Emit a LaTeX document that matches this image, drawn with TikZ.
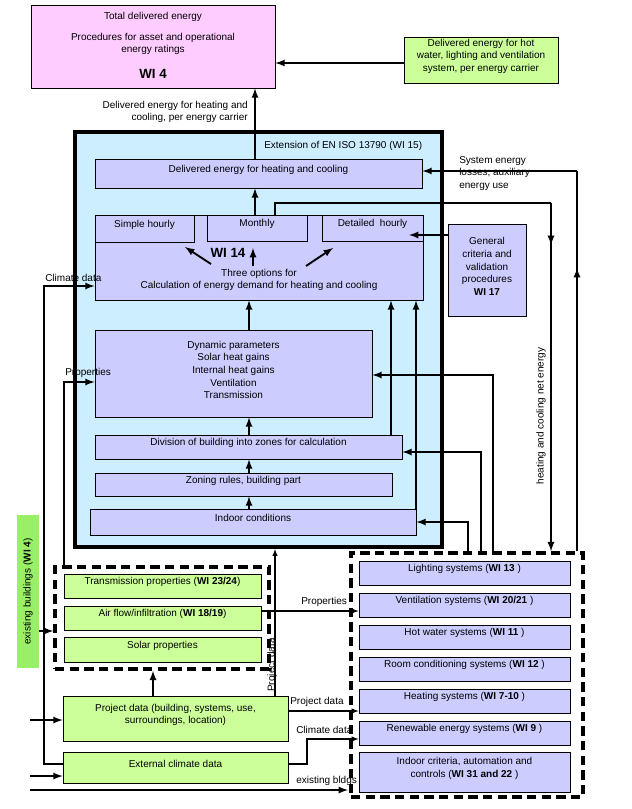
\documentclass[tikz,border=0pt]{standalone}
\usepackage{fontspec}
\setmainfont{Liberation Sans}
\usetikzlibrary{arrows,fit,positioning}
\definecolor{pinkbox}{HTML}{FFCCFF}
\definecolor{greenbox}{HTML}{CCFF99}
\definecolor{barbox}{HTML}{99F066}
\definecolor{bluebox}{HTML}{CCEEFF}
\definecolor{purplebox}{HTML}{CCCCFF}
\tikzset{
  box/.style={draw, line width=0.6pt, inner sep=0pt, align=center},
  sys/.style={box, fill=purplebox},
  data/.style={box, fill=greenbox},
  arr/.style={-latex, line width=1.4pt},
  thin arr/.style={-latex, line width=0.8pt},
  dashbox/.style={draw, line width=2.6pt, dash pattern=on 7pt off 4pt, inner sep=0pt},
  lbl/.style={inner sep=0pt, align=center}
}
\begin{document}
\begin{tikzpicture}[x=0.75pt,y=-0.75pt,font=\fontsize{7.5}{9.5}\selectfont]
\useasboundingbox (0,0) rectangle (631,809);

% top
\node[box, fill=pinkbox, fit={(31,5)(275,88)}] (total) {};
\node[lbl] at (153,17) {Total delivered energy};
\node[lbl] at (153,44) {Procedures for asset and operational\\energy ratings};
\node[lbl, font=\fontsize{10}{12}\selectfont\bfseries] at (153,74) {WI 4};
\node[data, fit={(404,37)(558,83)}] (hotw) {Delivered energy for hot\\water, lighting and ventilation\\system, per energy carrier};

% extension box
\node[draw, line width=3pt, fill=bluebox, fit={(75,132)(442,547)}, inner sep=0pt] (ext) {};
\node[lbl, anchor=west] at (264,146) {Extension of EN ISO 13790 (WI 15)};
\node[sys, fit={(95,159)(422,188)}] (deliv) {Delivered energy for heating and cooling};
\node[sys, fit={(95,215)(423,300)}] (wi14) {};
\node[sys, fit={(95,215)(194,242)}] (simple) {Simple hourly};
\node[sys, fit={(207,215)(307,241)}] (monthly) {Monthly};
\node[sys, fit={(322,215)(423,241)}] (detailed) {Detailed\ \ hourly};
\node[lbl, font=\fontsize{10}{12}\selectfont\bfseries] (wi14lbl) at (228,253) {WI 14};
\node[lbl] (three) at (259,280) {Three options for\\Calculation of energy demand for heating and cooling};
\node[sys, fit={(95,330)(372,417)}] (dyn) {Dynamic parameters\\Solar heat gains\\Internal heat gains\\Ventilation\\Transmission};
\node[sys, fit={(95,435)(402,459)}] (division) {Division of building into zones for calculation};
\node[sys, fit={(95,473)(392,496)}] (zoning) {Zoning rules, building part};
\node[sys, fit={(90,509)(416,535)}] (indoor) {Indoor conditions};
\node[box, fill=purplebox, fit={(448,224)(526,316)}] (general) {General\\criteria and\\validation\\procedures\\\textbf{WI 17}};

% left side
\node[dashbox, fit={(55,567)(269,669)}] (props) {};
\node[data, fit={(64,574)(261,598)}] (trans) {Transmission properties (\textbf{WI 23/24})};
\node[data, fit={(64,606)(261,630)}] (airflow) {Air flow/infiltration (\textbf{WI 18/19})};
\node[data, fit={(64,637)(261,662)}] (solar) {Solar properties};
\node[fill=barbox, fit={(17,515)(39,668)}, inner sep=0pt] (existing) {};
\node[lbl, rotate=90] at (existing.center) {existing buildings (\textbf{WI 4})};
\node[data, fit={(63,696)(288,741)}] (project) {Project data (building, systems, use,\\surroundings, location)};
\node[data, fit={(63,752)(288,783)}] (climate) {External climate data};

% right side
\node[dashbox, fit={(351,553)(583,797)}] (systems) {};
\node[sys, fit={(359,561)(570,585)}] (light) {Lighting systems (\textbf{WI 13} )};
\node[sys, fit={(359,593)(570,617)}] (vent) {Ventilation systems (\textbf{WI 20/21} )};
\node[sys, fit={(359,625)(570,649)}] (hotwater) {Hot water systems (\textbf{WI 11} )};
\node[sys, fit={(359,657)(570,681)}] (room) {Room conditioning systems (\textbf{WI 12} )};
\node[sys, fit={(359,689)(570,713)}] (heating) {Heating systems (\textbf{WI 7-10} )};
\node[sys, fit={(359,721)(570,745)}] (renew) {Renewable energy systems (\textbf{WI 9} )};
\node[sys, fit={(359,752)(570,792)}] (criteria) {Indoor criteria, automation and\\controls (\textbf{WI 31 and 22} )};

% labels
\node[lbl, align=right, anchor=east] at (248,112) {Delivered energy for heating and\\cooling, per energy carrier};
\node[lbl, align=left, anchor=north west] at (459,156) {System energy\\losses; auxiliary\\energy use};
\node[lbl, rotate=90] at (541,416) {heating and cooling net energy};
\node[lbl, anchor=south west] at (45,282) {Climate data};
\node[lbl, anchor=south west] at (65,378) {Properties};
\node[lbl, rotate=90, anchor=south] at (277,665) {Project data};
\node[lbl, anchor=south west] at (301,607) {Properties};
\node[lbl, anchor=south west] at (290,707) {Project data};
\node[lbl, anchor=south west] at (296,734) {Climate data};
\node[lbl, anchor=south west] at (296,786) {existing bldgs};

% connectors
\draw[arr] (hotw.west |- 0,63) -- (total.east |- 0,63);
\draw[arr] (deliv.north -| 255,0) -- (total.south -| 255,0);
\draw[arr] (monthly.north -| 255,0) -- (deliv.south -| 255,0);
\draw[arr] (211,264) -- (185,247);
\draw[arr] (253,266) -- (253,248);
\draw[arr] (306,266) -- (333,248);
\draw[arr] (general.west |- 0,235) -- (409,235);
\draw[arr] (dyn.north -| 249,0) -- (wi14.south -| 249,0);
\draw[arr] (division.north -| 249,0) -- (dyn.south -| 249,0);
\draw[arr] (zoning.north -| 249,0) -- (division.south -| 249,0);
\draw[arr] (indoor.north -| 249,0) -- (zoning.south -| 249,0);
\draw[arr] (division.north -| 391,0) -- (wi14.south -| 391,0);
\draw[arr] (indoor.north -| 416,0) -- (wi14.south -| 416,0);
\coordinate (netA) at (551,203);
\coordinate (netB) at (577,171);
\draw[line width=0.8pt] (monthly.north -| 275,0) |- (netA);
\draw[arr] (netA) -- (netA |- systems.north);
\draw[arr] (netA) -- (551,245);
\draw[line width=1.4pt] (systems.north -| netB) -- (netB);
\draw[arr] (577,290) -- (577,268);
\draw[arr] (netB) -- (deliv.east |- netB);
\draw[arr] (systems.north -| 493,0) |- (dyn.east |- 0,375);
\draw[arr] (systems.north -| 481,0) |- (division.east |- 0,452);
\draw[arr] (systems.north -| 468,0) |- (indoor.east |- 0,522);
\draw[arr] (climate.west |- 0,764) -| (44,286) -- (wi14.west |- 0,286);
\draw[arr] (props.north -| 64,0) |- (dyn.west |- 0,382);
\draw[arr] (existing.east |- 0,631) -- (props.west |- 0,631);
\draw[arr] (project.north -| 153,0) -- (props.south -| 153,0);
\draw[thin arr] (project.north -| 275,0) -- (ext.south -| 275,0);
\draw[thin arr] (airflow.east |- 0,611) -- (vent.west |- 0,611);
\draw[thin arr] (project.east |- 0,711) -- (heating.west |- 0,711);
\draw[thin arr] (climate.east |- 0,764) -| (307,739) -- (renew.west |- 0,739);
\coordinate (inP) at (30,720);
\coordinate (inC) at (30,776);
\coordinate (inE) at (30,790);
\draw[arr] (inP) -- (project.west |- inP);
\draw[arr] (inC) -- (climate.west |- inC);
\draw[arr] (inE) -- (348,790);
\end{tikzpicture}
\end{document}
